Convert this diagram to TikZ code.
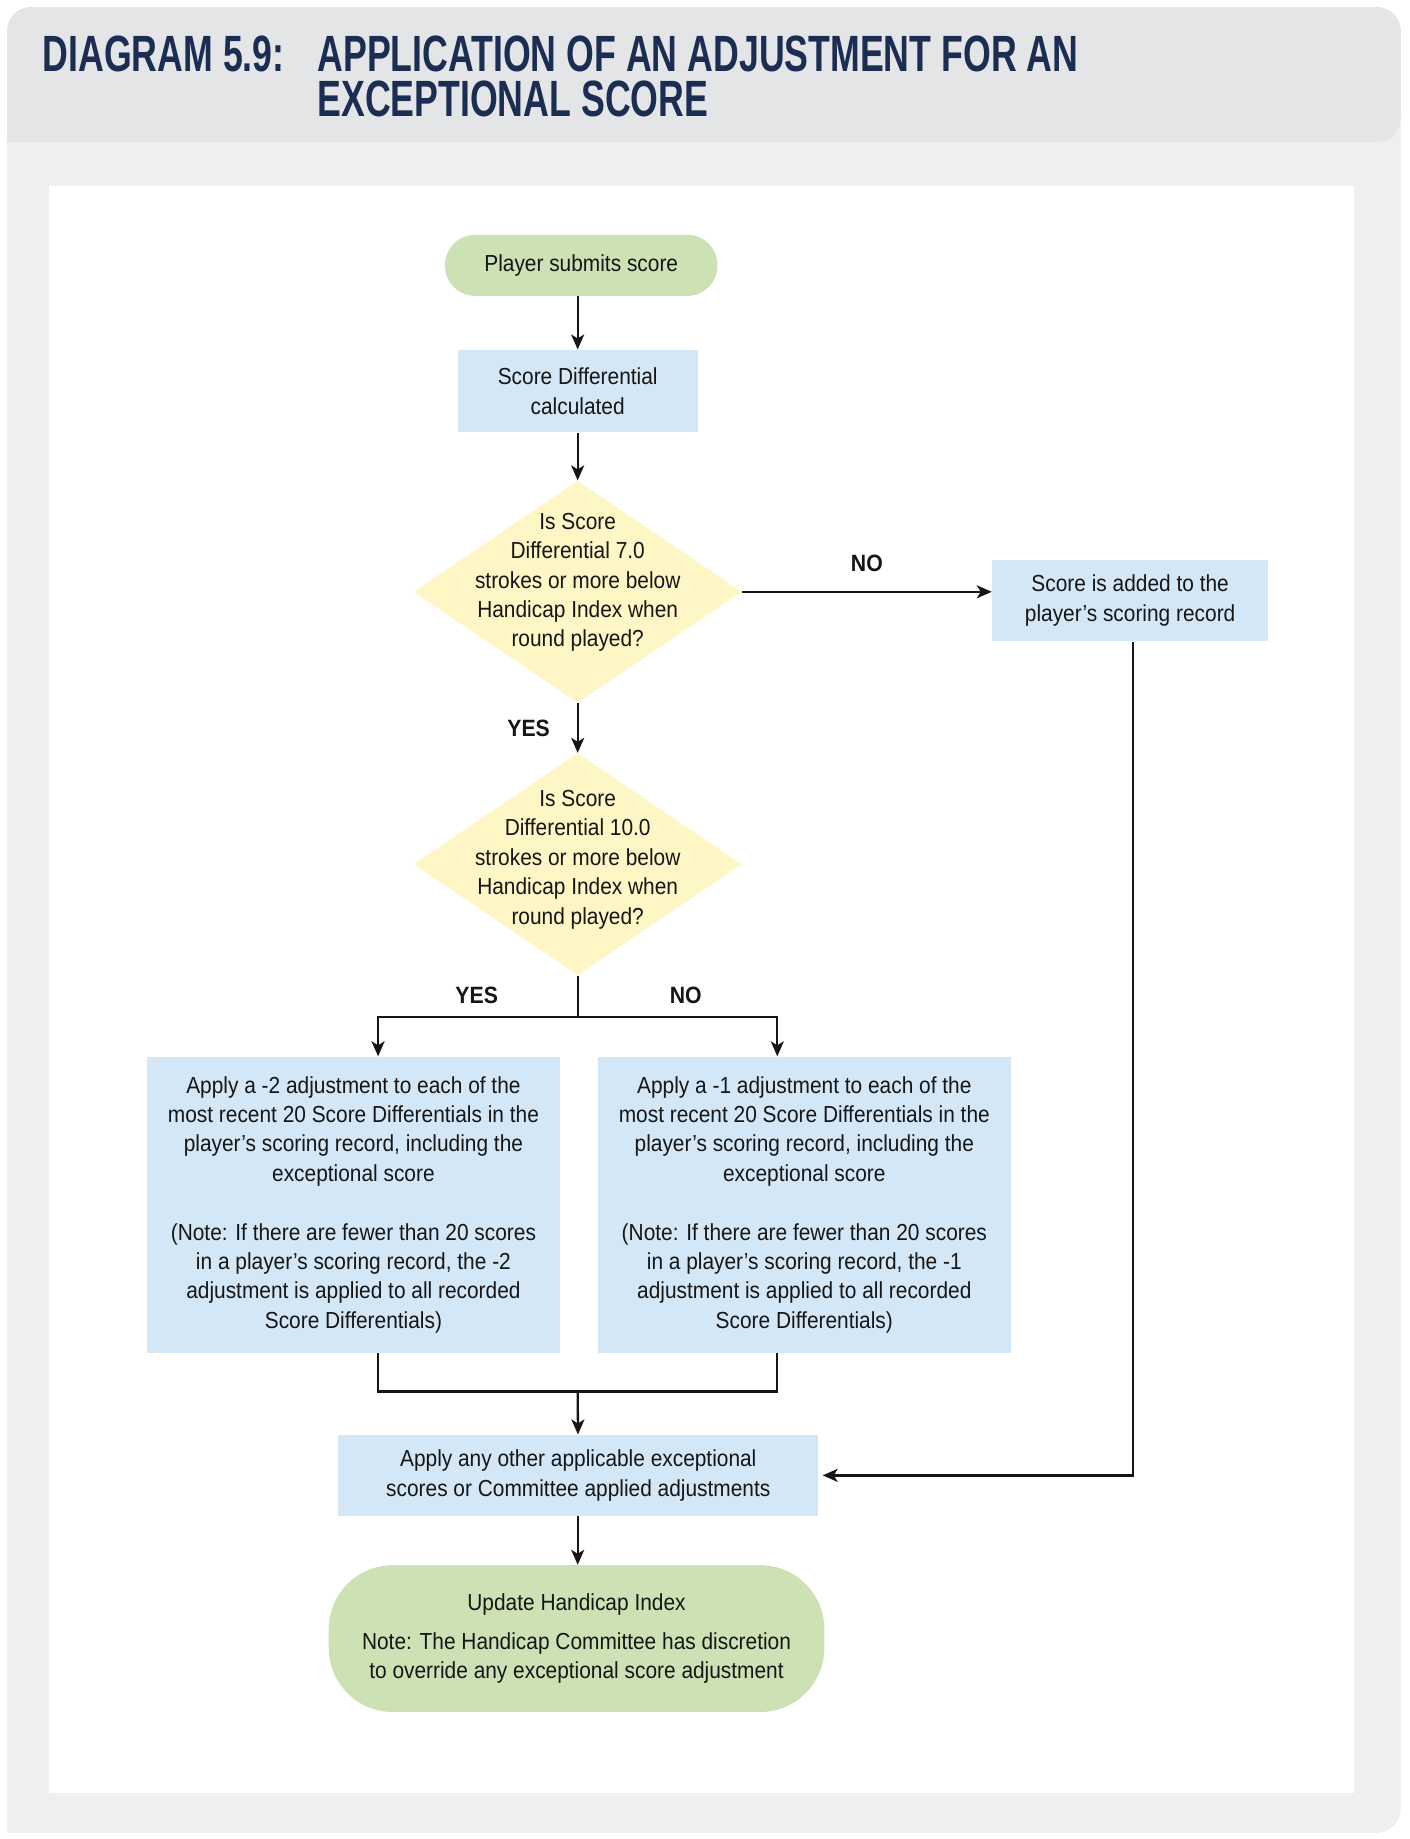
\documentclass[tikz,border=0pt]{standalone}
\usepackage{fontspec}
\setmainfont[FakeStretch=0.9]{Liberation Sans}
\newfontfamily\titlefont[FakeStretch=0.70]{Liberation Sans}
\usetikzlibrary{shapes.geometric,arrows.meta,positioning,calc}
\definecolor{panelgray}{HTML}{EFEFEF}
\definecolor{bandgray}{HTML}{E4E5E7}
\definecolor{navy}{HTML}{1B2D52}
\definecolor{termgreen}{HTML}{CDE2B4}
\definecolor{procblue}{HTML}{D3E7F6}
\definecolor{decyellow}{HTML}{FEF6C4}
\definecolor{ink}{HTML}{161616}

\begin{document}
\begin{tikzpicture}[x=0.5871pt, y=-0.5871pt,
  every node/.style={text=ink, font=\fontsize{11.6}{14.7}\selectfont},
  terminal/.style={fill=termgreen, inner sep=0pt, align=center},
  procbox/.style={fill=procblue, inner sep=0pt, align=center},
  decision/.style={diamond, fill=decyellow, inner sep=0pt, minimum width=164pt, minimum height=111pt},
  answer/.style={font=\fontsize{11.8}{14}\selectfont\bfseries},
  titletext/.style={anchor=base west, inner sep=0pt, text=navy, align=left, font=\titlefont\fontsize{25.5}{22.3}\selectfont\bfseries},
  link/.style={line width=1.15pt, draw=ink},
  arr/.style={link, -{Stealth[length=7.5pt,width=6.5pt,inset=2pt]}}]
    \useasboundingbox (0,0) rectangle (1200,1566.2);

    % Panel
    \fill[panelgray, rounded corners=12pt] (6,1561) -- (6,6) -- (1193,6) -- (1193,1561) [sharp corners] -- cycle;
    \fill[bandgray, rounded corners=12pt] (6,121) -- (6,6) -- (1193,6) -- (1193,121) [sharp corners] -- cycle;
    \fill[white] (42,158) rectangle (1153,1527);

    % Title
    \node[titletext] (ttlnum) at (36,61) {DIAGRAM 5.9:};
    \node[titletext] (ttlmain) at (270,99) {APPLICATION OF AN ADJUSTMENT FOR AN\\EXCEPTIONAL SCORE};

    % Flow nodes
    \node[terminal, rounded corners=15pt, minimum width=136.2pt, minimum height=30.5pt] (submit) at (495,226) {Player submits score};
    \node[procbox, minimum width=119.8pt, minimum height=41.1pt] (calc) at (492,333) {Score Differential\\calculated};
    \node[decision] (dseven) at (492,504) {};
    \node[align=center, inner sep=0pt] (tseven) at (492,496) {Is Score\\Differential 7.0\\strokes or more below\\Handicap Index when\\round played?};
    \node[procbox, minimum width=138pt, minimum height=40.5pt] (added) at (962.5,511.5) {Score is added to the\\player’s scoring record};
    \node[decision] (dten) at (492,736) {};
    \node[align=center, inner sep=0pt] (tten) at (492,732) {Is Score\\Differential 10.0\\strokes or more below\\Handicap Index when\\round played?};
    \node[procbox, minimum width=206.7pt, minimum height=148pt] (mintwo) at (301,1026) {Apply a -2 adjustment to each of the\\most recent 20 Score Differentials in the\\player’s scoring record, including the\\exceptional score\\[14.7pt](Note: If there are fewer than 20 scores\\in a player’s scoring record, the -2\\adjustment is applied to all recorded\\Score Differentials)};
    \node[procbox, minimum width=206.7pt, minimum height=148pt] (minone) at (685,1026) {Apply a -1 adjustment to each of the\\most recent 20 Score Differentials in the\\player’s scoring record, including the\\exceptional score\\[14.7pt](Note: If there are fewer than 20 scores\\in a player’s scoring record, the -1\\adjustment is applied to all recorded\\Score Differentials)};
    \node[procbox, minimum width=240pt, minimum height=40.5pt] (other) at (492.5,1256.5) {Apply any other applicable exceptional\\scores or Committee applied adjustments};
    \node[terminal, rounded corners=32pt, minimum width=247.8pt, minimum height=73.4pt] (update) at (491,1395.5) {Update Handicap Index\\[4.7pt]Note: The Handicap Committee has discretion\\to override any exceptional score adjustment};

    % Branch points
    \coordinate (ljoin) at (322,866);
    \coordinate (rjoin) at (662,866);
    \coordinate (merge) at (492,1185);
    \coordinate (rside) at (965,1256.5);

    % Connectors
    \draw[arr] (calc.north |- submit.south) -- (calc);
    \draw[arr] (calc) -- (dseven);
    \draw[arr] (dseven.east) -- (dseven.east -| added.west) node[midway, above=6pt, answer] (noone) {NO};
    \draw[arr] (dseven.south) -- (dten.north) node[midway, left=10pt, answer] (yesone) {YES};
    \draw[arr] (dten.south) |- (ljoin) -- (ljoin |- mintwo.north);
    \draw[arr] (dten.south) |- (rjoin) -- (rjoin |- minone.north);
    \node[answer] (yestwo) at (406,848) {YES};
    \node[answer] (notwo) at (584,848) {NO};
    \draw[link] (ljoin |- mintwo.south) |- (merge);
    \draw[link] (rjoin |- minone.south) |- (merge);
    \draw[arr] (merge) -- (other);
    \draw[arr, shorten >=2pt] (rside |- added.south) -- (rside) -- (other.east);
    \draw[arr] (other.south -| merge) -- (merge |- update.north);
\end{tikzpicture}
\end{document}
